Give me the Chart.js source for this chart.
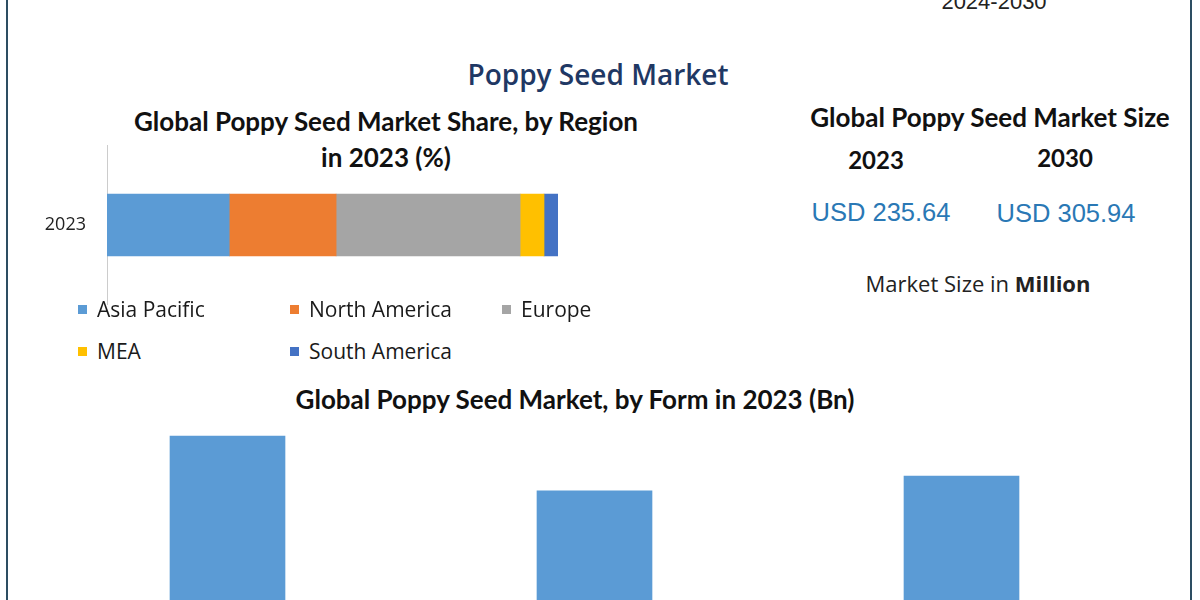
<!DOCTYPE html>
<html>
<head>
<meta charset="utf-8"/>
<title>Poppy Seed Market</title>
<script src="https://cdn.jsdelivr.net/npm/chart.js@4.4.0/dist/chart.umd.min.js"></script>
<style>
html, body { margin: 0; padding: 0; width: 1200px; height: 600px; overflow: hidden; background: #fff; }
.edge { position: absolute; top: 0; width: 2px; height: 600px; background: #2d4e62; }
.t { position: absolute; white-space: nowrap; transform: translate(-50%, -50%); color: #111; }
.hd { font-family: Lato, "Open Sans", sans-serif; font-weight: 700; font-size: 26px; }
.yr { font-family: Lato, "Open Sans", sans-serif; font-weight: 700; font-size: 24px; }
.usd { font-family: "Liberation Sans", Arial, sans-serif; font-size: 25.5px; color: #2a78b5; }
#legend { position: absolute; left: 78px; top: 295px; width: 560px; font-family: "Open Sans", sans-serif; font-size: 21px; color: #1a1a1a; }
#legend .item { position: absolute; white-space: nowrap; }
#legend .box { display: inline-block; width: 9px; height: 9px; margin-right: 10px; vertical-align: 3px; }
canvas { position: absolute; }
</style>
</head>
<body>
<div class="edge" style="left:6px"></div>
<div class="edge" style="left:1190px"></div>

<div class="t" style="left:994px; top:2px; font-family:'Liberation Sans Narrow','Liberation Sans',sans-serif; font-size:22px; color:#222;">2024-2030</div>
<div class="t" style="left:598px; top:74px; font-family:'Open Sans',sans-serif; font-weight:600; font-size:28px; color:#1f3864;">Poppy Seed Market</div>

<div class="t hd" style="left:386px; top:121px;">Global Poppy Seed Market Share, by Region</div>
<div class="t hd" style="left:386px; top:157px;">in 2023 (%)</div>

<div class="t hd" style="left:990px; top:117px;">Global Poppy Seed Market Size</div>
<div class="t yr" style="left:876px; top:159px;" id="y0"></div>
<div class="t yr" style="left:1065px; top:157px;" id="y1"></div>
<div class="t usd" style="left:881px; top:212px;" id="v0"></div>
<div class="t usd" style="left:1066px; top:213px;" id="v1"></div>
<div class="t" style="left:978px; top:283px; font-family:'Open Sans',sans-serif; font-size:22px; color:#222;">Market Size in <b>Million</b></div>

<div class="t hd" style="left:575px; top:399px;">Global Poppy Seed Market, by Form in 2023 (Bn)</div>

<canvas id="regionChart" width="558" height="160" style="left:0; top:145px;"></canvas>
<div id="legend"></div>
<canvas id="formChart" width="1101" height="230" style="left:44px; top:420px;"></canvas>

<script>
// market size
var sizeYears = ['2023', '2030'];
var sizeValues = [235.64, 305.94];

// share by region, 2023 (%)
var regionYears = ['2023'];
var regionNames = ['Asia Pacific', 'North America', 'Europe', 'MEA', 'South America'];
var regionShare = [27.1, 23.7, 40.8, 5.3, 3.1];
var regionColors = ['#5b9bd5', '#ed7d31', '#a5a5a5', '#ffc000', '#4472c4'];

// by form, 2023 (bars are cut off at the bottom of the picture)
var formNames = ['Form 1', 'Form 2', 'Form 3'];
var formValues = [46.5, 34.6, 37.8];

document.getElementById('y0').textContent = sizeYears[0];
document.getElementById('y1').textContent = sizeYears[1];
document.getElementById('v0').textContent = 'USD ' + sizeValues[0].toFixed(2);
document.getElementById('v1').textContent = 'USD ' + sizeValues[1].toFixed(2);

// legend, 3 per row
var legend = document.getElementById('legend');
for (var i = 0; i < regionNames.length; i++) {
	var it = document.createElement('div');
	it.className = 'item';
	it.style.left = ((i % 3) * 212) + 'px';
	it.style.top = (Math.floor(i / 3) * 42) + 'px';
	it.innerHTML = '<span class="box" style="background:' + regionColors[i] + '"></span>' + regionNames[i];
	legend.appendChild(it);
}

// light axis line down the whole canvas height
var axisLine = {
	id: 'axisLine',
	beforeDatasetsDraw: function (chart) {
		var x = chart.chartArea.left, c = chart.ctx;
		c.save();
		c.strokeStyle = '#cccccc';
		c.lineWidth = 1;
		c.beginPath();
		c.moveTo(x + 0.5, 0);
		c.lineTo(x + 0.5, chart.height);
		c.stroke();
		c.restore();
	}
};

new Chart(document.getElementById('regionChart'), {
	type: 'bar',
	data: {
		labels: regionYears,
		datasets: regionNames.map(function (n, i) {
			return { label: n, data: [regionShare[i]], backgroundColor: regionColors[i], barThickness: 62 };
		})
	},
	options: {
		indexAxis: 'y',
		responsive: false,
		animation: false,
		layout: { padding: 0 },
		plugins: { legend: { display: false }, tooltip: { enabled: false } },
		scales: {
			x: { stacked: true, display: false, min: 0, max: 100 },
			y: {
				stacked: true,
				grid: { display: false, drawTicks: false },
				border: { display: false },
				ticks: { padding: 21, color: '#222', font: { family: 'Open Sans', size: 18 } },
				afterFit: function (s) { s.width = 107; }
			}
		}
	},
	plugins: [axisLine]
});

new Chart(document.getElementById('formChart'), {
	type: 'bar',
	data: {
		labels: formNames,
		datasets: [{ data: formValues, backgroundColor: '#5b9bd5', barThickness: 115 }]
	},
	options: {
		responsive: false,
		animation: false,
		layout: { padding: 0 },
		plugins: { legend: { display: false }, tooltip: { enabled: false } },
		scales: {
			x: { display: false },
			y: { display: false, min: 0, max: 50 }
		}
	}
});
</script>
</body>
</html>
